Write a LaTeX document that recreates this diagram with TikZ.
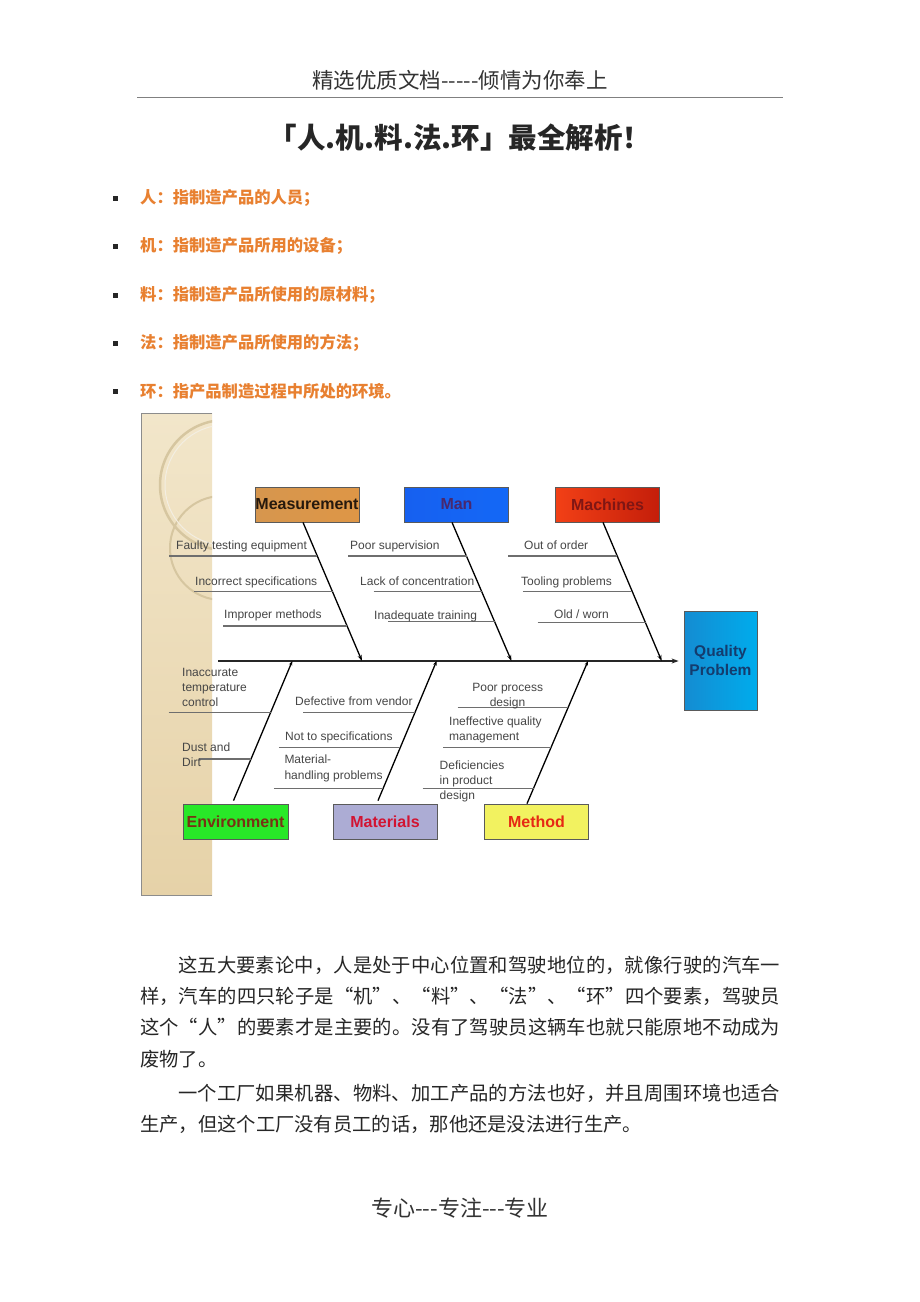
\documentclass[tikz,border=0pt]{standalone}
\usepackage{fontspec}
\setmainfont{Liberation Sans}
\newfontfamily\cjk{Noto Sans CJK SC}
\usetikzlibrary{arrows.meta,calc}
\definecolor{orng}{RGB}{232,128,48}
\definecolor{txtgray}{RGB}{70,70,70}
\definecolor{ribgray}{RGB}{110,110,110}
\definecolor{boxedge}{RGB}{90,90,90}
\definecolor{stripA}{RGB}{242,230,202}
\definecolor{stripB}{RGB}{230,210,168}
\definecolor{arcc}{RGB}{214,198,160}
\definecolor{measL}{RGB}{214,150,78}
\definecolor{measM}{RGB}{232,168,86}
\definecolor{measR}{RGB}{222,150,70}
\definecolor{manL}{RGB}{22,96,240}
\definecolor{manM}{RGB}{28,80,215}
\definecolor{manR}{RGB}{20,104,246}
\definecolor{macL}{RGB}{242,64,22}
\definecolor{macM}{RGB}{228,48,16}
\definecolor{macR}{RGB}{196,30,10}
\definecolor{qpL}{RGB}{20,140,210}
\definecolor{qpR}{RGB}{0,172,236}
\definecolor{envL}{RGB}{40,232,40}
\definecolor{envM}{RGB}{30,180,30}
\definecolor{matL}{RGB}{172,172,212}
\definecolor{matM}{RGB}{140,140,176}
\definecolor{metL}{RGB}{242,242,96}
\definecolor{metM}{RGB}{230,218,60}
\def\jsploop#1{\ifx#1\relax\else#1\hskip0pt plus 1fil\relax\expandafter\jsploop\fi}
\newcommand\jline[2]{\hbox to #1{\jsploop#2\relax\unskip}}
\begin{document}
\begin{tikzpicture}[x=1pt,y=-1pt,
  lbl/.style={font=\fontsize{12}{14}\selectfont, text=txtgray, inner sep=0, anchor=base west},
  rib/.style={draw=ribgray, line width=1.2pt},
  bone/.style={draw=black, line width=1.3pt, -{Stealth[length=6pt,width=4pt]}},
  lowbone/.style={draw=black, line width=1.3pt, -{Stealth[length=4.5pt,width=3.5pt]}},
  catbox/.style={draw=boxedge, line width=0.8pt, minimum width=104pt, minimum height=35pt, inner sep=0, font=\bfseries\fontsize{16}{18}\selectfont},
  bul/.style={anchor=west, inner sep=0, text=orng, font=\cjk\bfseries\fontsize{16.3}{18}\selectfont},
  body/.style={anchor=base west, inner sep=0, text=black!85, font=\cjk\fontsize{19.3}{22}\selectfont}
]
\useasboundingbox (0,0) rectangle (920,1302);
\fill[white] (0,0) rectangle (920,1302);

% header
\node[font=\cjk\fontsize{21.5}{24}\selectfont, text=black!80, inner sep=0] (hdr) at (460,80) {精选优质文档-----倾情为你奉上};
\draw[black!50, line width=0.8pt] (137,97) -- (783,97);
\node[font=\cjk\bfseries\fontsize{28.5}{30}\selectfont, text=black!85, inner sep=0] (title) at (460,138) {「人.机.料.法.环」最全解析！};

% bullets
\foreach \yy/\nm/\tx in {198/b1/{人：指制造产品的人员；},246/b2/{机：指制造产品所用的设备；},295/b3/{料：指制造产品所使用的原材料；},343/b4/{法：指制造产品所使用的方法；},391/b5/{环：指产品制造过程中所处的环境。}}{
  \fill[black!85] (113,\yy-2.5) rectangle (118,\yy+2.5);
  \node[bul] (\nm) at (140,\yy) {\tx};
}

% diagram panel strip
\shade[top color=stripA, bottom color=stripB] (141,413) rectangle (212,895);
\begin{scope}
  \clip (141,413) rectangle (212,895);
  \draw[arcc, line width=2.5pt] (225,485) circle[radius=65];
  \draw[arcc, line width=2pt] (222,548) circle[radius=52];
  \draw[white!70!arcc, line width=1pt] (225,485) circle[radius=60];
\end{scope}
\draw[black!45, line width=0.8pt] (212,413) -- (141,413) -- (141,895) -- (212,895);

% category boxes
\node[catbox, left color=measL, middle color=measM, right color=measR, text=black!80!brown] (meas) at (307,504.5) {Measurement};
\node[catbox, left color=manL, middle color=manM, right color=manR, text={rgb,255:red,72;green,40;blue,110}] (man) at (456.5,504.5) {Man};
\node[catbox, left color=macL, middle color=macM, right color=macR, text={rgb,255:red,128;green,22;blue,20}] (mach) at (607.5,504.5) {Machines};
\node[catbox, minimum width=73pt, minimum height=99pt, left color=qpL, right color=qpR, align=center, font=\bfseries\fontsize{15.5}{19}\selectfont, text={rgb,255:red,20;green,60;blue,110}] (qp) at (720.5,660.5) {Quality\\Problem};
\node[catbox, minimum width=105pt, left color=envL, middle color=envM, right color=envL, text={rgb,255:red,120;green,50;blue,20}] (env) at (235.5,821.5) {Environment};
\node[catbox, left color=matL, middle color=matM, right color=matL, text={rgb,255:red,210;green,20;blue,50}] (mat) at (385,821.5) {Materials};
\node[catbox, left color=metL, middle color=metM, right color=metL, text={rgb,255:red,230;green,40;blue,20}] (meth) at (536.5,821.5) {Method};

% spine
\coordinate (tail) at (218,661);
\draw[line width=1.6pt, draw=black!85, -{Stealth[length=7pt,width=5pt]}, shorten >=5pt] (tail) -- (qp.west |- tail);

% bone points on spine
\coordinate (sM) at (362,661);
\coordinate (sN) at (511.5,661);
\coordinate (sC) at (661.7,661);
\coordinate (sE) at (292.3,661);
\coordinate (sA) at (436.6,661);
\coordinate (sD) at (588,661);
\coordinate (tM) at ($(meas.south)+(-4,0)$);
\coordinate (tN) at ($(man.south)+(-4.5,0)$);
\coordinate (tC) at ($(mach.south)+(-4.5,0)$);
\coordinate (bE) at ($(env.north)+(-2,-3)$);
\coordinate (bA) at ($(mat.north)+(-7,-3)$);
\coordinate (bD) at ($(meth.north)+(-9.5,0)$);

\draw[bone] (tM) -- (sM);
\draw[bone] (tN) -- (sN);
\draw[bone] (tC) -- (sC);
\draw[lowbone] (bE) -- (sE);
\draw[lowbone] (bA) -- (sA);
\draw[lowbone] (bD) -- (sD);

% rib attachment points
\path (tM) -- (sM) coordinate[pos=0.2446] (m1) coordinate[pos=0.5014] (m2) coordinate[pos=0.7482] (m3);
\path (tN) -- (sN) coordinate[pos=0.2446] (n1) coordinate[pos=0.5014] (n2) coordinate[pos=0.7173] (n3);
\path (tC) -- (sC) coordinate[pos=0.2446] (c1) coordinate[pos=0.5014] (c2) coordinate[pos=0.7245] (c3);
\path (sE) -- (bE) coordinate[pos=0.3693] (e1) coordinate[pos=0.7] (e2);
\path (sA) -- (bA) coordinate[pos=0.3693] (a1) coordinate[pos=0.6193] (a2) coordinate[pos=0.9093] (a3);
\path (sD) -- (bD) coordinate[pos=0.3238] (d1) coordinate[pos=0.6063] (d2) coordinate[pos=0.8902] (d3);

\coordinate (rm1) at (169,556);   \draw[rib] (rm1) -- (rm1 -| m1);
\coordinate (rm2) at (194,591.7); \draw[rib] (rm2) -- (rm2 -| m2);
\coordinate (rm3) at (223,626);   \draw[rib] (rm3) -- (rm3 -| m3);
\coordinate (rn1) at (348,556);   \draw[rib] (rn1) -- (rn1 -| n1);
\coordinate (rn2) at (373.5,591.7); \draw[rib] (rn2) -- (rn2 -| n2);
\coordinate (rn3) at (388,621.7); \draw[rib] (rn3) -- (rn3 -| n3);
\coordinate (rc1) at (508,556);   \draw[rib] (rc1) -- (rc1 -| c1);
\coordinate (rc2) at (522.8,591.7); \draw[rib] (rc2) -- (rc2 -| c2);
\coordinate (rc3) at (537.6,622.7); \draw[rib] (rc3) -- (rc3 -| c3);
\coordinate (re1) at (168.6,712.7); \draw[rib] (re1) -- (re1 -| e1);
\coordinate (re2) at (199,759);   \draw[rib] (re2) -- (re2 -| e2);
\coordinate (ra1) at (303,712.7); \draw[rib] (ra1) -- (ra1 -| a1);
\coordinate (ra2) at (278.8,747.7); \draw[rib] (ra2) -- (ra2 -| a2);
\coordinate (ra3) at (273.8,788.3); \draw[rib] (ra3) -- (ra3 -| a3);
\coordinate (rd1) at (457.6,707.3); \draw[rib] (rd1) -- (rd1 -| d1);
\coordinate (rd2) at (443,747.7); \draw[rib] (rd2) -- (rd2 -| d2);
\coordinate (rd3) at (422.7,788.3); \draw[rib] (rd3) -- (rd3 -| d3);

% rib labels
\node[lbl] (lm1) at (176,549) {Faulty testing equipment};
\node[lbl] (lm2) at (195,585) {Incorrect specifications};
\node[lbl] (lm3) at (224,618) {Improper methods};
\node[lbl] (ln1) at (350,549) {Poor supervision};
\node[lbl] (ln2) at (360,585) {Lack of concentration};
\node[lbl] (ln3) at (374,619) {Inadequate training};
\node[lbl] (lc1) at (524,549) {Out of order};
\node[lbl] (lc2) at (521,585) {Tooling problems};
\node[lbl] (lc3) at (554,618) {Old / worn};
\node[lbl] (le1a) at (182,676) {Inaccurate};
\node[lbl] (le1b) at (182,691.5) {temperature};
\node[lbl] (le1c) at (182,706) {control};
\node[lbl] (le2a) at (182,751) {Dust and};
\node[lbl] (le2b) at (182,766.5) {Dirt};
\node[lbl] (la1) at (295,705.5) {Defective from vendor};
\node[lbl] (la2) at (285,740) {Not to specifications};
\node[lbl] (la3a) at (284.3,763.3) {Material-};
\node[lbl] (la3b) at (284.3,779) {handling problems};
\node[lbl, anchor=base] (ld1a) at (507.7,691.5) {Poor process};
\node[lbl, anchor=base] (ld1b) at (507.5,706) {design};
\node[lbl] (ld2a) at (449,725.7) {Ineffective quality};
\node[lbl] (ld2b) at (449,740.7) {management};
\node[lbl] (ld3a) at (439.5,769) {Deficiencies};
\node[lbl] (ld3b) at (439.5,784) {in product};
\node[lbl] (ld3c) at (439.5,799) {design};

% body paragraphs
\node[body] (p1) at (178,972) {\jline{602pt}{这五大要素论中，人是处于中心位置和驾驶地位的，就像行驶的汽车一}};
\node[body] (p2) at (140,1003) {\jline{640pt}{样，汽车的四只轮子是“机”、“料”、“法”、“环”四个要素，驾驶员}};
\node[body] (p3) at (140,1034) {\jline{640pt}{这个“人”的要素才是主要的。没有了驾驶员这辆车也就只能原地不动成为}};
\node[body] (p4) at (140,1066) {废物了。};
\node[body] (q1) at (178,1100) {\jline{602pt}{一个工厂如果机器、物料、加工产品的方法也好，并且周围环境也适合}};
\node[body] (q2) at (140,1131) {生产，但这个工厂没有员工的话，那他还是没法进行生产。};

% footer
\node[font=\cjk\fontsize{22}{24}\selectfont, text=black!80, inner sep=0] (ftr) at (460,1208) {专心---专注---专业};
\end{tikzpicture}
\end{document}
